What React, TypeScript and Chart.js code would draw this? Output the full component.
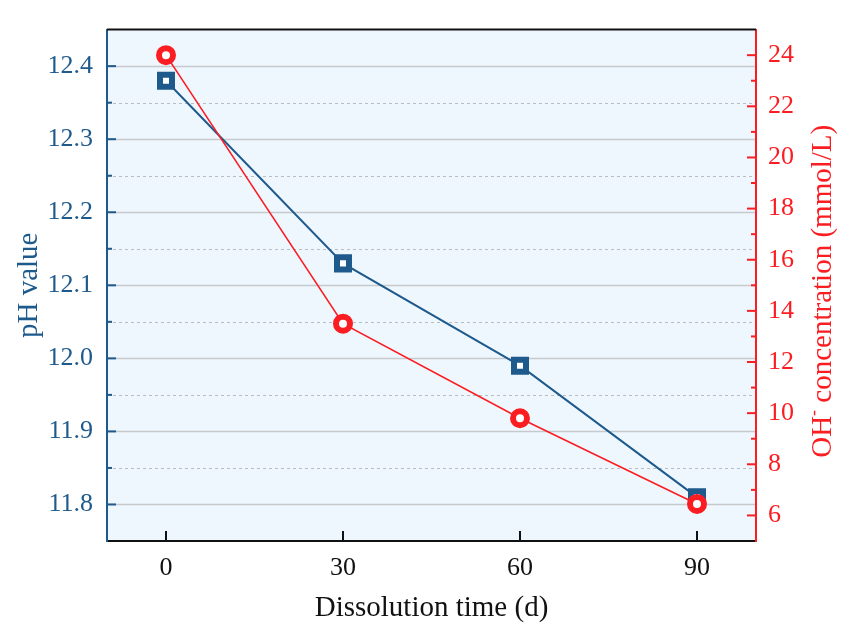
import { useEffect, useRef } from "react"
import { Chart, registerables, type ChartConfiguration, type Plugin } from "chart.js"

Chart.register(...registerables)

const days = [0, 30, 60, 90]
const phValues = [12.38, 12.13, 11.99, 11.81]
const ohValues = [24.0, 13.5, 9.8, 6.45]
const dayTicks = [0, 30, 60, 90]

const BLUE = "#1f5a8c"
const RED = "#fa1e23"
const BG = "#eef7fe"
const FONT = "'Times New Roman', 'Liberation Serif', serif"

const isMajorPh = (v: number) => Math.round(v * 100) % 10 === 0
const isMajorOh = (v: number) => Math.round(v) % 2 === 0

const framePlugin: Plugin = {
  id: "frame",
  beforeDraw(chart) {
    const { ctx, chartArea: a } = chart
    const y = chart.scales.y
    ctx.save()
    ctx.fillStyle = BG
    ctx.fillRect(a.left, a.top, a.width, a.height)
    // grid lines follow the left axis
    y.ticks.forEach((t) => {
      const p = Math.round(y.getPixelForValue(t.value)) + 0.5
      if (p <= a.top + 2 || p >= a.bottom - 2) return
      ctx.beginPath()
      if (isMajorPh(t.value)) {
        ctx.setLineDash([])
        ctx.strokeStyle = "#c6cacd"
        ctx.lineWidth = 1.5
      } else {
        ctx.setLineDash([3, 3])
        ctx.strokeStyle = "#b9bdc0"
        ctx.lineWidth = 1
      }
      ctx.moveTo(a.left, p)
      ctx.lineTo(a.right, p)
      ctx.stroke()
    })
    ctx.restore()
  },
  afterDraw(chart) {
    const { ctx, chartArea: a } = chart
    const { x, y, y1 } = chart.scales
    ctx.save()
    ctx.setLineDash([])
    // top frame line
    ctx.strokeStyle = "#111"
    ctx.lineWidth = 2
    ctx.beginPath()
    ctx.moveTo(a.left, a.top)
    ctx.lineTo(a.right, a.top)
    ctx.stroke()

    // inward ticks
    ctx.lineWidth = 2
    ctx.strokeStyle = BLUE
    y.ticks.forEach((t) => {
      const p = y.getPixelForValue(t.value)
      if (p <= a.top + 2 || p >= a.bottom - 2) return
      const len = isMajorPh(t.value) ? 9 : 5
      ctx.beginPath()
      ctx.moveTo(a.left, p)
      ctx.lineTo(a.left + len, p)
      ctx.stroke()
    })
    ctx.strokeStyle = RED
    y1.ticks.forEach((t) => {
      const p = y1.getPixelForValue(t.value)
      if (p <= a.top + 2 || p >= a.bottom - 2) return
      const len = isMajorOh(t.value) ? 9 : 5
      ctx.beginPath()
      ctx.moveTo(a.right, p)
      ctx.lineTo(a.right - len, p)
      ctx.stroke()
    })
    ctx.strokeStyle = "#111"
    x.ticks.forEach((t) => {
      const p = x.getPixelForValue(t.value)
      ctx.beginPath()
      ctx.moveTo(p, a.bottom)
      ctx.lineTo(p, a.bottom - 10)
      ctx.stroke()
    })

    // right axis title, reading bottom to top
    const cx = 823
    const cy = (a.top + a.bottom) / 2 + 6
    ctx.translate(cx, cy)
    ctx.rotate(-Math.PI / 2)
    ctx.fillStyle = RED
    ctx.textBaseline = "middle"
    const head = "OH"
    const tail = " concentration (mmol/L)"
    ctx.font = `18px ${FONT}`
    const supW = ctx.measureText("-").width
    ctx.font = `29px ${FONT}`
    const headW = ctx.measureText(head).width
    const tailW = ctx.measureText(tail).width
    const total = headW + supW + tailW
    let sx = -total / 2
    ctx.textAlign = "left"
    ctx.fillText(head, sx, 0)
    sx += headW
    ctx.font = `18px ${FONT}`
    ctx.fillText("-", sx, -9)
    sx += supW
    ctx.font = `29px ${FONT}`
    ctx.fillText(tail, sx, 0)
    ctx.restore()
  },
}

export default function App() {
  const canvasRef = useRef<HTMLCanvasElement>(null)
  const chartRef = useRef<Chart | null>(null)

  useEffect(() => {
    document.body.style.margin = "0"
    if (!canvasRef.current) return
    if (chartRef.current) chartRef.current.destroy()

    const config: ChartConfiguration = {
      type: "line",
      data: {
        datasets: [
          {
            label: "pH value",
            data: days.map((d, i) => ({ x: d, y: phValues[i] })),
            yAxisID: "y",
            borderColor: BLUE,
            borderWidth: 2,
            pointStyle: "rect",
            pointRadius: 8.5,
            pointBorderWidth: 6,
            pointBorderColor: BLUE,
            pointBackgroundColor: "#ffffff",
            order: 2,
          },
          {
            label: "OH- concentration",
            data: days.map((d, i) => ({ x: d, y: ohValues[i] })),
            yAxisID: "y1",
            borderColor: RED,
            borderWidth: 1.6,
            pointStyle: "circle",
            pointRadius: 7,
            pointBorderWidth: 6,
            pointBorderColor: RED,
            pointBackgroundColor: "#ffffff",
            order: 1,
          },
        ],
      },
      options: {
        animation: false,
        responsive: true,
        maintainAspectRatio: false,
        layout: { padding: { top: 13, left: 0, right: 0, bottom: 0 }, autoPadding: false },
        plugins: {
          legend: { display: false },
          tooltip: { enabled: false },
        },
        scales: {
          x: {
            type: "linear",
            min: -10,
            max: 100,
            afterBuildTicks: (s) => {
              s.ticks = dayTicks.map((v) => ({ value: v }))
            },
            afterFit: (s) => {
              s.height = 98
            },
            grid: { display: false, drawTicks: false },
            border: { display: true, color: "#111", width: 2 },
            ticks: {
              padding: 12,
              color: "#111",
              font: { family: FONT, size: 26 },
              maxRotation: 0,
              autoSkip: false,
            },
            title: {
              display: true,
              text: "Dissolution time (d)",
              color: "#111",
              font: { family: FONT, size: 29 },
              padding: { top: 4, bottom: 13 },
            },
          },
          y: {
            type: "linear",
            position: "left",
            min: 11.75,
            max: 12.45,
            afterFit: (s) => {
              s.width = 107
            },
            grid: { display: false, drawTicks: false },
            border: { display: true, color: BLUE, width: 2 },
            ticks: {
              stepSize: 0.05,
              padding: 14,
              color: BLUE,
              autoSkip: false,
              font: { family: FONT, size: 26 },
              callback: (v) => (isMajorPh(Number(v)) ? Number(v).toFixed(1) : ""),
            },
            title: {
              display: true,
              text: "pH value",
              color: BLUE,
              font: { family: FONT, size: 29 },
              padding: { top: 12, bottom: 0 },
            },
          },
          y1: {
            type: "linear",
            position: "right",
            min: 5,
            max: 25,
            afterFit: (s) => {
              s.width = 93
            },
            grid: { display: false, drawTicks: false },
            border: { display: true, color: RED, width: 2 },
            ticks: {
              stepSize: 1,
              padding: 12,
              color: RED,
              autoSkip: false,
              font: { family: FONT, size: 26 },
              callback: (v) => (isMajorOh(Number(v)) ? String(v) : ""),
            },
          },
        },
      },
      plugins: [framePlugin],
    }

    chartRef.current = new Chart(canvasRef.current, config)
    return () => {
      chartRef.current?.destroy()
      chartRef.current = null
    }
  }, [])

  return (
    <div style={{ position: "relative", width: 849, height: 639 }}>
      <canvas ref={canvasRef} />
    </div>
  )
}
